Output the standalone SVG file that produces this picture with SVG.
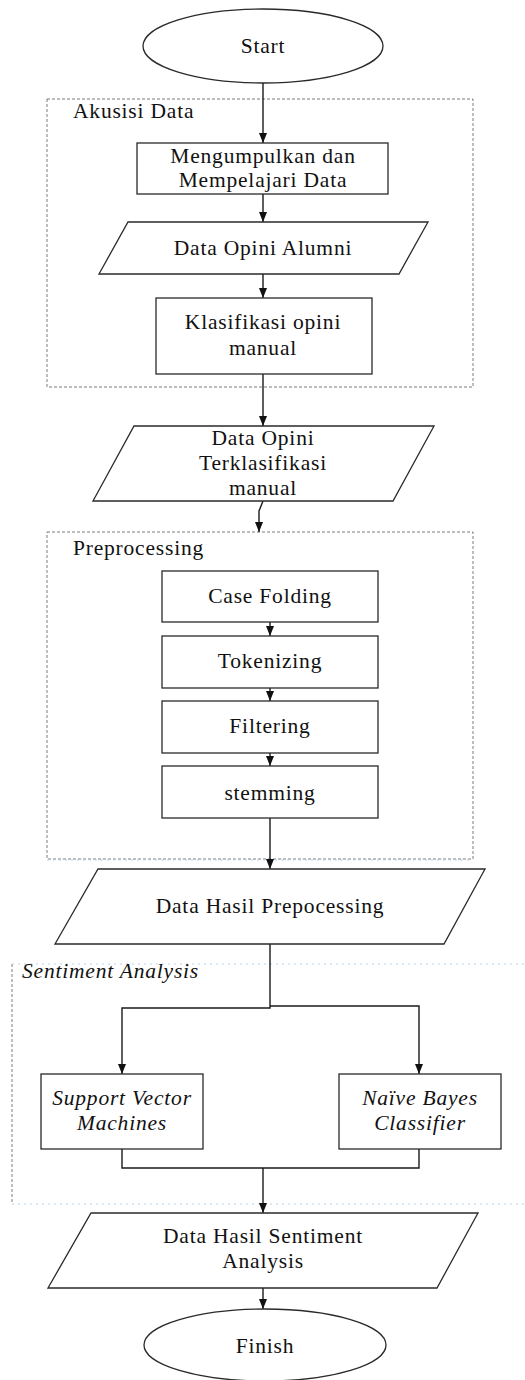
<svg xmlns="http://www.w3.org/2000/svg" width="525" height="1380" viewBox="0 0 525 1380">
  <style>
    .shape { fill: #ffffff; stroke: #2a2a2a; stroke-width: 1.3; }
    .group { fill: none; stroke: #6e6e6e; stroke-width: 0.9; stroke-dasharray: 3 2; }
    .group-dot { fill: none; stroke: #b9d3ea; stroke-width: 1.2; stroke-dasharray: 2 4; }
    .label { font-family: "Liberation Serif", "Times New Roman", serif; font-size: 21.5px; letter-spacing: 0.8px; fill: #111111; text-anchor: middle; }
    .title { font-family: "Liberation Serif", "Times New Roman", serif; font-size: 21.5px; letter-spacing: 0.8px; fill: #111111; }
    .it { font-style: italic; }
    .wire { fill: none; stroke: #1a1a1a; stroke-width: 1.4; }
  </style>
  <defs>
    <marker id="arrow" viewBox="0 0 10 8" refX="10" refY="4" markerWidth="10" markerHeight="8" markerUnits="userSpaceOnUse" orient="auto">
      <path d="M0,0 L10,4 L0,8 Z" fill="#111111"/>
    </marker>
  </defs>

  <!-- group frames -->
  <g id="group-akusisi">
    <rect class="group" x="47" y="99" width="426" height="288"/>
    <text class="title" x="73" y="118">Akusisi Data</text>
  </g>
  <g id="group-preprocessing">
    <rect class="group" x="47" y="532" width="426" height="327"/>
    <line class="group-dot" x1="47" y1="860" x2="473" y2="860"/>
    <text class="title" x="73" y="555">Preprocessing</text>
  </g>
  <g id="group-sentiment">
    <line class="group" x1="12" y1="964" x2="12" y2="1203"/>
    <line class="group-dot" x1="12" y1="964" x2="525" y2="964"/>
    <line class="group-dot" x1="12" y1="1204" x2="525" y2="1204"/>
    <text class="title it" x="22" y="978">Sentiment Analysis</text>
  </g>

  <!-- connectors -->
  <g id="connectors">
    <line class="wire" x1="263" y1="83" x2="263" y2="143" marker-end="url(#arrow)"/>
    <line class="wire" x1="263" y1="194" x2="263" y2="222" marker-end="url(#arrow)"/>
    <line class="wire" x1="263" y1="274" x2="263" y2="298" marker-end="url(#arrow)"/>
    <line class="wire" x1="263" y1="374" x2="263" y2="426" marker-end="url(#arrow)"/>
    <polyline class="wire" points="263,501 259,511 259,532" marker-end="url(#arrow)"/>
    <line class="wire" x1="270" y1="622" x2="270" y2="636" marker-end="url(#arrow)"/>
    <line class="wire" x1="270" y1="688" x2="270" y2="701" marker-end="url(#arrow)"/>
    <line class="wire" x1="270" y1="753" x2="270" y2="766" marker-end="url(#arrow)"/>
    <line class="wire" x1="270" y1="818" x2="270" y2="869" marker-end="url(#arrow)"/>
    <polyline class="wire" points="270,944 270,1008 122,1008 122,1074" marker-end="url(#arrow)"/>
    <polyline class="wire" points="270,1006 419,1006 419,1074" marker-end="url(#arrow)"/>
    <polyline class="wire" points="122,1149 122,1168 419,1168 419,1149"/>
    <line class="wire" x1="263" y1="1168" x2="263" y2="1213" marker-end="url(#arrow)"/>
    <line class="wire" x1="263" y1="1288" x2="263" y2="1309" marker-end="url(#arrow)"/>
  </g>

  <!-- nodes -->
  <g id="start">
    <ellipse class="shape" cx="263" cy="46" rx="120" ry="37"/>
    <text class="label" x="263" y="53">Start</text>
  </g>
  <g id="collect">
    <rect class="shape" x="137" y="143" width="251" height="51"/>
    <text class="label" x="263" y="163">Mengumpulkan dan</text>
    <text class="label" x="263" y="187">Mempelajari Data</text>
  </g>
  <g id="opinion-data">
    <polygon class="shape" points="128,222 428,222 399,274 99,274"/>
    <text class="label" x="263" y="255">Data Opini Alumni</text>
  </g>
  <g id="manual-classify">
    <rect class="shape" x="156" y="298" width="216" height="76"/>
    <text class="label" x="263" y="329">Klasifikasi opini</text>
    <text class="label" x="263" y="355">manual</text>
  </g>
  <g id="classified-data">
    <polygon class="shape" points="134,426 434,426 393,501 93,501"/>
    <text class="label" x="263" y="445">Data Opini</text>
    <text class="label" x="263" y="470">Terklasifikasi</text>
    <text class="label" x="263" y="495">manual</text>
  </g>
  <g id="case-folding">
    <rect class="shape" x="162" y="571" width="216" height="51"/>
    <text class="label" x="270" y="603">Case Folding</text>
  </g>
  <g id="tokenizing">
    <rect class="shape" x="162" y="636" width="216" height="52"/>
    <text class="label" x="270" y="668">Tokenizing</text>
  </g>
  <g id="filtering">
    <rect class="shape" x="162" y="701" width="216" height="52"/>
    <text class="label" x="270" y="733">Filtering</text>
  </g>
  <g id="stemming">
    <rect class="shape" x="162" y="766" width="216" height="52"/>
    <text class="label" x="270" y="800">stemming</text>
  </g>
  <g id="preprocessed-data">
    <polygon class="shape" points="98,869 485,869 444,944 55,944"/>
    <text class="label" x="270" y="913">Data Hasil Prepocessing</text>
  </g>
  <g id="svm">
    <rect class="shape" x="41" y="1074" width="162" height="75"/>
    <text class="label it" x="122" y="1105">Support Vector</text>
    <text class="label it" x="122" y="1130">Machines</text>
  </g>
  <g id="naive-bayes">
    <rect class="shape" x="339" y="1074" width="162" height="75"/>
    <text class="label it" x="420" y="1105">Naïve Bayes</text>
    <text class="label it" x="420" y="1130">Classifier</text>
  </g>
  <g id="sentiment-result">
    <polygon class="shape" points="91,1213 478,1213 437,1288 48,1288"/>
    <text class="label" x="263" y="1243">Data Hasil Sentiment</text>
    <text class="label" x="263" y="1268">Analysis</text>
  </g>
  <g id="finish">
    <ellipse class="shape" cx="265" cy="1345" rx="121" ry="36"/>
    <text class="label" x="265" y="1353">Finish</text>
  </g>
</svg>
